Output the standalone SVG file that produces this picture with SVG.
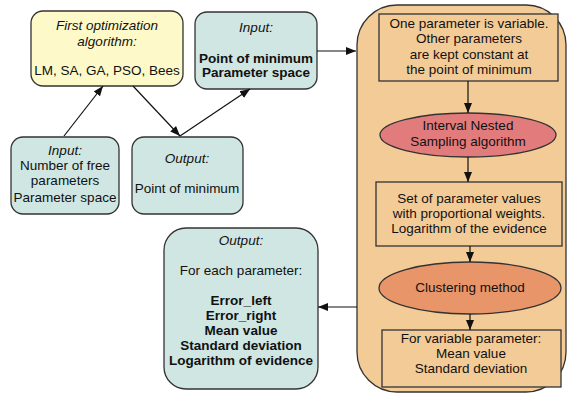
<svg xmlns="http://www.w3.org/2000/svg" width="571" height="394" viewBox="0 0 571 394">
<style>
text{font-family:"Liberation Sans",Arial,sans-serif;font-size:13.5px;fill:#111;text-anchor:middle}
.i{font-style:italic}
.b{font-weight:bold}
.box{stroke:#333;stroke-width:1.3}
.yel{fill:#fdf9c9}
.teal{fill:#cfe6e2}
.org{fill:#f3cb97}
.conn{stroke:#111;stroke-width:1.2;fill:none;marker-end:url(#ah)}
</style>
<defs>
<marker id="ah" viewBox="0 0 10 10" refX="10" refY="5" markerWidth="10" markerHeight="10" markerUnits="userSpaceOnUse" orient="auto">
<path d="M0,1 L10,5 L0,9 z" fill="#111"/>
</marker>
</defs>
<g id="container">
<rect class="box org" x="357" y="5" width="209" height="387" rx="40"/>
</g>
<g id="first-opt">
<rect class="box yel" x="31" y="11" width="152" height="75" rx="12"/>
<text class="i" x="107" y="30">First optimization</text>
<text class="i" x="107" y="46">algorithm:</text>
<text x="107" y="75">LM, SA, GA, PSO, Bees</text>
</g>
<g id="input-top">
<rect class="box teal" x="195" y="12" width="122" height="77" rx="12"/>
<text class="i" x="256" y="32">Input:</text>
<text class="b" x="256" y="63">Point of minimum</text>
<text class="b" x="256" y="77">Parameter space</text>
</g>
<g id="input-left">
<rect class="box teal" x="11" y="137" width="108" height="77" rx="12"/>
<text class="i" x="65" y="155">Input:</text>
<text x="65" y="170">Number of free</text>
<text x="65" y="185">parameters</text>
<text x="65" y="202">Parameter space</text>
</g>
<g id="output-mid">
<rect class="box teal" x="132" y="137" width="111" height="77" rx="12"/>
<text class="i" x="187" y="163">Output:</text>
<text x="187" y="193">Point of minimum</text>
</g>
<g id="output-final">
<rect class="box teal" x="164" y="228" width="154" height="161" rx="22"/>
<text class="i" x="241" y="245">Output:</text>
<text x="241" y="275">For each parameter:</text>
<text class="b" x="241" y="305">Error_left</text>
<text class="b" x="241" y="320">Error_right</text>
<text class="b" x="241" y="335">Mean value</text>
<text class="b" x="241" y="350">Standard deviation</text>
<text class="b" x="241" y="365">Logarithm of evidence</text>
</g>
<g id="step1">
<rect class="box org" x="379" y="14" width="179" height="67"/>
<text x="469" y="28">One parameter is variable.</text>
<text x="469" y="43">Other parameters</text>
<text x="469" y="59">are kept constant at</text>
<text x="469" y="74">the point of minimum</text>
</g>
<g id="ins">
<ellipse class="box" fill="#e27c7c" cx="468" cy="135" rx="88" ry="22"/>
<text x="468" y="130">Interval Nested</text>
<text x="468" y="146">Sampling algorithm</text>
</g>
<g id="step2">
<rect class="box org" x="376" y="182" width="186" height="64"/>
<text x="469" y="203">Set of parameter values</text>
<text x="469" y="218">with proportional weights.</text>
<text x="469" y="233">Logarithm of the evidence</text>
</g>
<g id="clustering">
<ellipse class="box" fill="#e8956a" cx="470" cy="288" rx="91" ry="26"/>
<text x="470" y="292">Clustering method</text>
</g>
<g id="step3">
<rect class="box org" x="382" y="330" width="179" height="57"/>
<text x="471" y="343">For variable parameter:</text>
<text x="471" y="358">Mean value</text>
<text x="471" y="373">Standard deviation</text>
</g>
<g id="connectors">
<line class="conn" x1="64" y1="136" x2="103" y2="86"/>
<line class="conn" x1="133" y1="86" x2="180" y2="136"/>
<line class="conn" x1="180" y1="136" x2="250" y2="89"/>
<line class="conn" x1="317" y1="51" x2="356" y2="51"/>
<line class="conn" x1="468" y1="81" x2="468" y2="113"/>
<line class="conn" x1="468" y1="157" x2="468" y2="182"/>
<line class="conn" x1="470" y1="246" x2="470" y2="262"/>
<line class="conn" x1="470" y1="314" x2="470" y2="330"/>
<line class="conn" x1="357" y1="307" x2="318" y2="307"/>
</g>
</svg>
